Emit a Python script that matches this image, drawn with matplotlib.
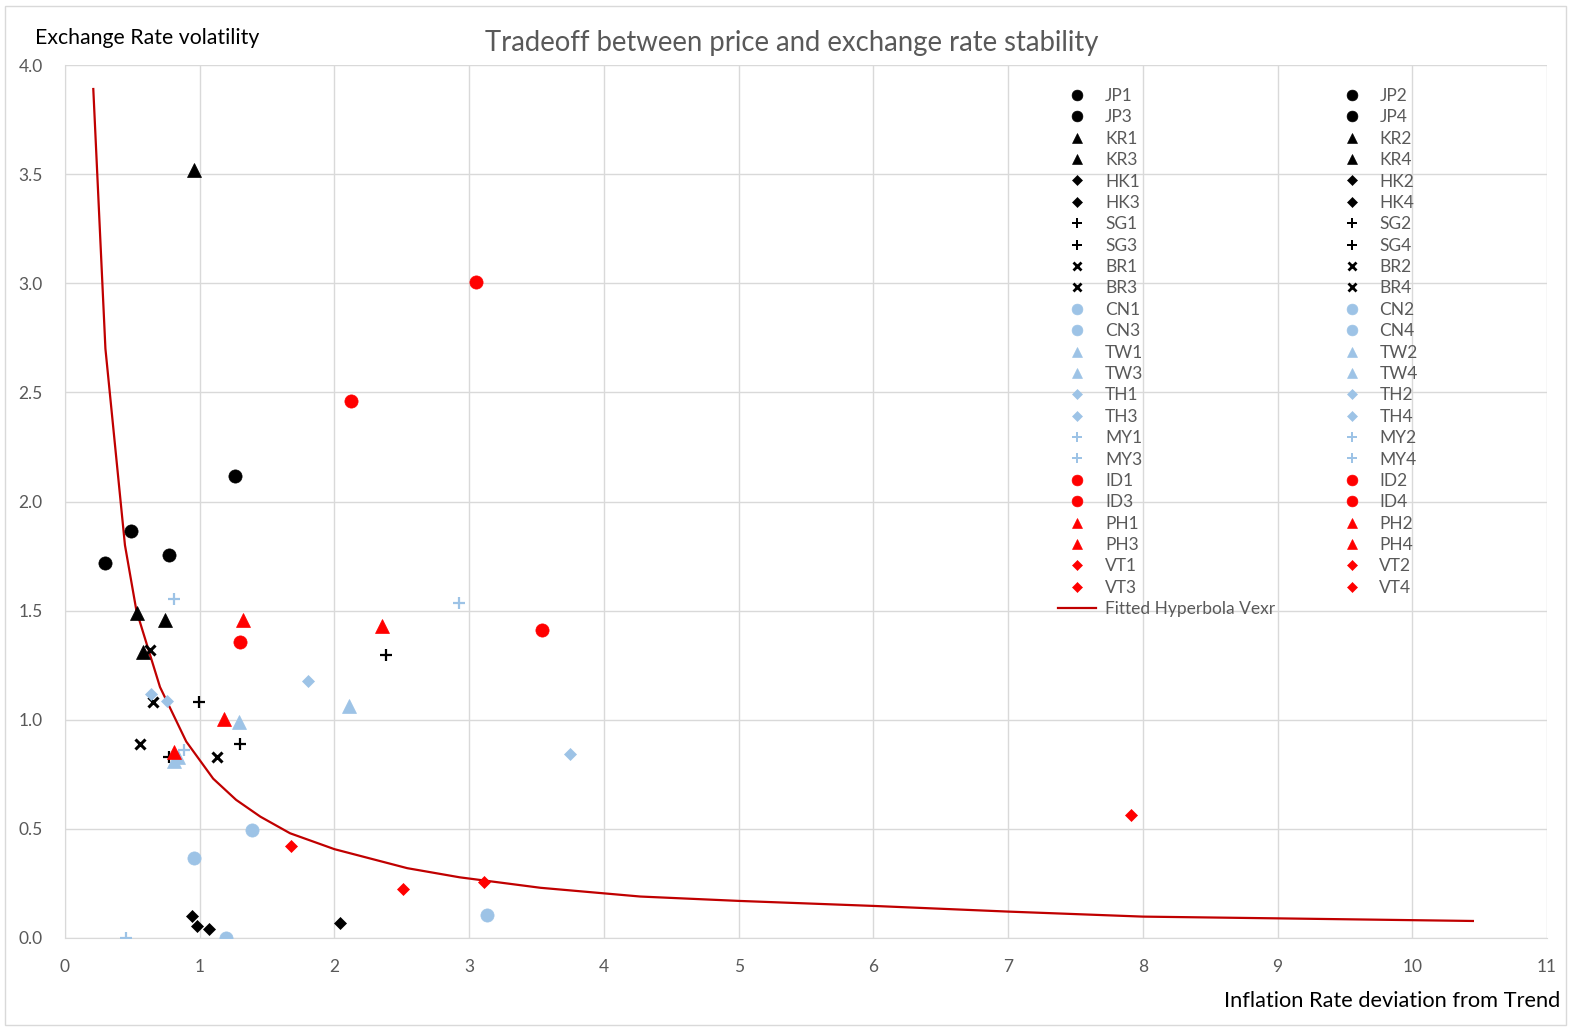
import matplotlib
matplotlib.use("Agg")
import matplotlib.pyplot as plt
from matplotlib.lines import Line2D
from matplotlib.patches import Rectangle

plt.rcParams["font.family"] = ["Lato", "DejaVu Sans"]

BLACK = "#000000"
LBLUE = "#9DC3E6"
RED   = "#FF0000"
CURVE = "#C00000"
GREY  = "#595959"

# one point per series: (inflation deviation, exchange rate volatility)
jp = [(0.30, 1.72), (0.49, 1.865), (0.77, 1.757), (1.26, 2.115)]
kr = [(0.537, 1.49), (0.958, 3.52), (0.745, 1.455), (0.58, 1.31)]
hk = [(0.94, 0.10), (0.98, 0.056), (1.07, 0.04), (2.04, 0.07)]
sg = [(0.995, 1.08), (2.383, 1.298), (1.30, 0.89), (0.77, 0.83)]
br = [(0.63, 1.318), (0.65, 1.08), (0.557, 0.89), (1.126, 0.83)]
cn = [(0.957, 0.365), (1.39, 0.497), (1.195, 0.0), (3.13, 0.105)]
tw = [(1.29, 0.99), (2.11, 1.061), (0.81, 0.81), (0.84, 0.83)]
th = [(0.64, 1.12), (0.76, 1.087), (1.806, 1.176), (3.75, 0.843)]
my = [(0.81, 1.555), (0.88, 0.86), (2.925, 1.535), (0.45, 0.0)]
id_ = [(3.05, 3.005), (2.12, 2.46), (3.54, 1.413), (1.30, 1.355)]
ph = [(1.32, 1.459), (1.18, 1.005), (0.81, 0.85), (2.356, 1.431)]
vt = [(1.68, 0.42), (2.51, 0.225), (3.11, 0.257), (7.91, 0.564)]

# fitted hyperbola, points along the drawn curve
fit_x = [0.21, 0.30, 0.445, 0.53, 0.705, 0.90, 1.10, 1.27, 1.45, 1.67, 2.0,
         2.54, 2.93, 3.53, 4.27, 5.0, 6.0, 7.0, 8.0, 9.0, 10.45]
fit_y = [3.89, 2.70, 1.80, 1.50, 1.15, 0.90, 0.73, 0.633, 0.556, 0.48, 0.407,
         0.32, 0.278, 0.23, 0.19, 0.17, 0.147, 0.121, 0.098, 0.09, 0.078]

countries = [
    ("JP", jp, "o", BLACK),
    ("KR", kr, "^", BLACK),
    ("HK", hk, "D", BLACK),
    ("SG", sg, "+", BLACK),
    ("BR", br, "x", BLACK),
    ("CN", cn, "o", LBLUE),
    ("TW", tw, "^", LBLUE),
    ("TH", th, "D", LBLUE),
    ("MY", my, "+", LBLUE),
    ("ID", id_, "o", RED),
    ("PH", ph, "^", RED),
    ("VT", vt, "D", RED),
]

SIZES = {"o": 9.5, "^": 9.5, "D": 6.5, "+": 9, "x": 7.5}
EDGES = {"o": 0.5, "^": 0.5, "D": 0.5, "+": 1.6, "x": 2.2}

fig = plt.figure(figsize=(15.71, 10.29), dpi=100)
ax = fig.add_axes([65 / 1571, 1 - 938 / 1029, (1547 - 65) / 1571, (938 - 65) / 1029])

handles = {}
for code, pts, mk, col in countries:
    for i, (x, y) in enumerate(pts, start=1):
        h, = ax.plot([x], [y], linestyle="none", marker=mk, color=col,
                     markersize=SIZES[mk], markeredgewidth=EDGES[mk],
                     label=f"{code}{i}", zorder=3)
        handles[f"{code}{i}"] = h

curve, = ax.plot(fit_x, fit_y, color=CURVE, lw=1.6, label="Fitted Hyperbola Vexr", zorder=2)

ax.set_xlim(0, 11)
ax.set_ylim(0, 4)
ax.set_xticks(range(0, 12))
ax.set_yticks([0, 0.5, 1.0, 1.5, 2.0, 2.5, 3.0, 3.5, 4.0])
ax.set_yticklabels([f"{v:.1f}" for v in ax.get_yticks()])
ax.tick_params(length=0, labelsize=12.5, colors=GREY)
ax.tick_params(axis="x", pad=15)
ax.tick_params(axis="y", pad=16)
ax.grid(True, color="#D9D9D9", lw=1)
ax.set_axisbelow(True)
for s in ("top", "right"):
    ax.spines[s].set_visible(False)
for s in ("left", "bottom"):
    ax.spines[s].set_color("#D9D9D9")


def legend_marker(lab):
    h = handles[lab]
    return Line2D([], [], linestyle="none", marker=h.get_marker(), color=h.get_color(),
                  markersize=h.get_markersize() * 0.82,
                  markeredgewidth=h.get_markeredgewidth() * 0.9)


# legend: Excel-style row order, two columns
codes = [c[0] for c in countries]
col1 = [f"{c}{n}" for c in codes for n in (1, 3)]
col2 = [f"{c}{n}" for c in codes for n in (2, 4)]
leg_h = [legend_marker(lab) for lab in col1] + [curve] + [legend_marker(lab) for lab in col2]
leg_l = col1 + ["Fitted Hyperbola Vexr"] + col2

leg = ax.legend(leg_h, leg_l, ncol=2, loc="upper left", bbox_to_anchor=(0.6655, 0.9816),
                frameon=False, fontsize=12.5, labelspacing=0.31, handlelength=2.2,
                handletextpad=0.5, columnspacing=3.3, borderaxespad=0)
for t in leg.get_texts():
    t.set_color(GREY)

fig.text(792 / 1571, 1 - 43 / 1029, "Tradeoff between price and exchange rate stability",
         ha="center", va="center", fontsize=19.8, color=GREY)
fig.text(35 / 1571, 1 - 38 / 1029, "Exchange Rate volatility",
         ha="left", va="center", fontsize=15.3, color=BLACK)
fig.text(1560 / 1571, 1 - 1001 / 1029, "Inflation Rate deviation from Trend",
         ha="right", va="center", fontsize=15.7, color=BLACK)

fig.patches.append(Rectangle((5 / 1571, 1 - 1025 / 1029), 1561 / 1571, 1019 / 1029,
                             transform=fig.transFigure, fill=False,
                             edgecolor="#D9D9D9", lw=1))

fig.savefig("out.png", dpi=100)
